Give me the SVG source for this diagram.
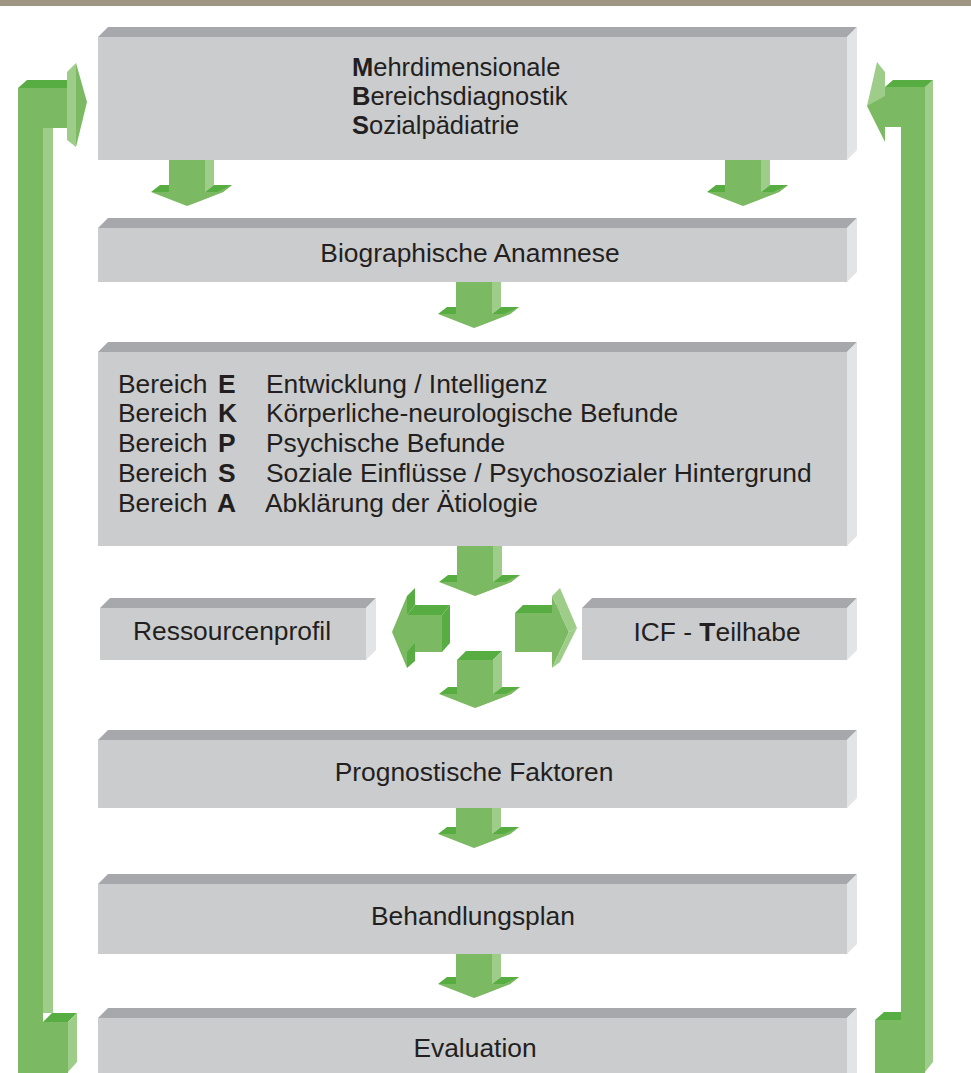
<svg xmlns="http://www.w3.org/2000/svg" width="971" height="1073" viewBox="0 0 971 1073">
<style>
.gt{fill:#a7a8ab}.gs{fill:#e3e4e6}.gf{fill:#cbccce}
.m{fill:#7bb962}.d{fill:#58ad42}.l{fill:#9dcd88}
text{font-family:"Liberation Sans",Arial,sans-serif;font-size:26.4px;fill:#231f20}
.t1{font-size:25.5px}
.c{text-anchor:middle}
.b{font-weight:bold}
</style>
<rect x="0" y="0" width="971" height="6" fill="#9e9682"/>
<g id="box-mbs">
<polygon class="gt" points="98,37 108,27 857,27 847,37"/>
<polygon class="gs" points="847,37 857,27 857,150 847,160"/>
<rect class="gf" x="98" y="37" width="749" height="123"/>
<text class="t1" x="352" y="76"><tspan class="b">M</tspan>ehrdimensionale</text>
<text class="t1" x="352" y="105"><tspan class="b">B</tspan>ereichsdiagnostik</text>
<text class="t1" x="352" y="134"><tspan class="b">S</tspan>ozialpädiatrie</text>
</g>
<g id="box-anamnese">
<polygon class="gt" points="98,228 108,218 857,218 847,228"/>
<polygon class="gs" points="847,228 857,218 857,272 847,282"/>
<rect class="gf" x="98" y="228" width="749" height="54"/>
<text class="c" x="470" y="262">Biographische Anamnese</text>
</g>
<g id="box-bereiche">
<polygon class="gt" points="98,352 108,342 857,342 847,352"/>
<polygon class="gs" points="847,352 857,342 857,536 847,546"/>
<rect class="gf" x="98" y="352" width="749" height="194"/>
<text x="118" y="393">Bereich</text><text class="b" x="218" y="393">E</text><text x="266" y="393">Entwicklung / Intelligenz</text>
<text x="118" y="422">Bereich</text><text class="b" x="218" y="422">K</text><text x="266" y="422">Körperliche-neurologische Befunde</text>
<text x="118" y="452">Bereich</text><text class="b" x="218" y="452">P</text><text x="266" y="452">Psychische Befunde</text>
<text x="118" y="482">Bereich</text><text class="b" x="218" y="482">S</text><text x="266" y="482">Soziale Einflüsse / Psychosozialer Hintergrund</text>
<text x="118" y="512">Bereich</text><text class="b" x="217" y="512">A</text><text x="265" y="512">Abklärung der Ätiologie</text>
</g>
<g id="box-ressourcen">
<polygon class="gt" points="100,608 110,598 376,598 366,608"/>
<polygon class="gs" points="366,608 376,598 376,650 366,660"/>
<rect class="gf" x="100" y="608" width="266" height="52"/>
<text class="c" x="232" y="640">Ressourcenprofil</text>
</g>
<g id="box-icf">
<polygon class="gt" points="582,608 592,598 857,598 847,608"/>
<polygon class="gs" points="847,608 857,598 857,650 847,660"/>
<rect class="gf" x="582" y="608" width="265" height="52"/>
<text class="c" x="717" y="641">ICF - <tspan class="b">T</tspan>eilhabe</text>
</g>
<g id="box-prognose">
<polygon class="gt" points="98,740 108,730 857,730 847,740"/>
<polygon class="gs" points="847,740 857,730 857,798 847,808"/>
<rect class="gf" x="98" y="740" width="749" height="68"/>
<text class="c" x="474" y="781">Prognostische Faktoren</text>
</g>
<g id="box-behandlung">
<polygon class="gt" points="98,884 108,874 857,874 847,884"/>
<polygon class="gs" points="847,884 857,874 857,944 847,954"/>
<rect class="gf" x="98" y="884" width="749" height="70"/>
<text class="c" x="473" y="925">Behandlungsplan</text>
</g>
<g id="box-evaluation">
<polygon class="gt" points="98,1018 108,1008 857,1008 847,1018"/>
<polygon class="gs" points="847,1018 857,1008 857,1073 847,1073"/>
<rect class="gf" x="98" y="1018" width="749" height="60"/>
<text class="c" x="475" y="1057">Evaluation</text>
</g>
<g id="connectors">
<g>
<polygon class="l" points="205,160 214,160 214,185 205,192"/>
<rect class="m" x="169" y="160" width="36" height="32"/>
<polygon class="d" points="151,192 160,185 169,185 169,192"/>
<polygon class="d" points="205,192 214,185 232,185 223,192"/>
<polygon class="m" points="151,192 223,192 187,206"/>
<polygon class="m" points="223,192 232,185 187,206"/>
</g>
<g>
<polygon class="l" points="761,160 770,160 770,185 761,192"/>
<rect class="m" x="725" y="160" width="36" height="32"/>
<polygon class="d" points="707,192 716,185 725,185 725,192"/>
<polygon class="d" points="761,192 770,185 788,185 779,192"/>
<polygon class="m" points="707,192 779,192 743,206"/>
<polygon class="m" points="779,192 788,185 743,206"/>
</g>
<g>
<polygon class="l" points="492,282 501,282 501,307 492,314"/>
<rect class="m" x="456" y="282" width="36" height="32"/>
<polygon class="d" points="438,314 447,307 456,307 456,314"/>
<polygon class="d" points="492,314 501,307 519,307 510,314"/>
<polygon class="m" points="438,314 510,314 474,328"/>
<polygon class="m" points="510,314 519,307 474,328"/>
</g>
<g>
<polygon class="l" points="493,546 502,546 502,575 493,582"/>
<rect class="m" x="457" y="546" width="36" height="36"/>
<polygon class="d" points="439,582 448,575 457,575 457,582"/>
<polygon class="d" points="493,582 502,575 520,575 511,582"/>
<polygon class="m" points="439,582 511,582 475,596"/>
<polygon class="m" points="511,582 520,575 475,596"/>
</g>
<g>
<polygon class="d" points="407,615 415,605 450,605 442,615"/>
<polygon class="d" points="442,615 450,605 450,643 442,652"/>
<rect class="m" x="407" y="615" width="35" height="37"/>
<polygon class="d" points="407,596 415,588 415,605 407,615"/>
<polygon class="d" points="407,652 415,643 415,661 407,668"/>
<polygon class="m" points="407,596 392,632 407,668"/>
</g>
<g>
<polygon class="d" points="515,613 523,605 560,605 552,613"/>
<rect class="m" x="515" y="613" width="37" height="39"/>
<polygon class="l" points="552,613 560,605 560,643 552,652"/>
<polygon class="m" points="552,596 569,632 552,668"/>
<polygon class="l" points="552,596 560,588 577,628 569,632"/>
<polygon class="l" points="569,632 577,628 560,662 552,668"/>
</g>
<g>
<polygon class="d" points="457,660 466,651 502,651 493,660"/>
<polygon class="l" points="493,660 502,651 502,687 493,694"/>
<rect class="m" x="457" y="660" width="36" height="34"/>
<polygon class="d" points="439,694 448,687 457,687 457,694"/>
<polygon class="d" points="493,694 502,687 520,687 511,694"/>
<polygon class="m" points="439,694 511,694 475,708"/>
<polygon class="m" points="511,694 520,687 475,708"/>
</g>
<g>
<polygon class="l" points="492,808 501,808 501,827 492,834"/>
<rect class="m" x="456" y="808" width="36" height="26"/>
<polygon class="d" points="438,834 447,827 456,827 456,834"/>
<polygon class="d" points="492,834 501,827 519,827 510,834"/>
<polygon class="m" points="438,834 510,834 474,848"/>
<polygon class="m" points="510,834 519,827 474,848"/>
</g>
<g>
<polygon class="l" points="492,954 501,954 501,977 492,984"/>
<rect class="m" x="456" y="954" width="36" height="30"/>
<polygon class="d" points="438,984 447,977 456,977 456,984"/>
<polygon class="d" points="492,984 501,977 519,977 510,984"/>
<polygon class="m" points="438,984 510,984 474,998"/>
<polygon class="m" points="510,984 519,977 474,998"/>
</g>
<g>
<rect class="m" x="18" y="88" width="25" height="985"/>
<rect class="l" x="43" y="128" width="10" height="885"/>
<rect class="m" x="18" y="88" width="49" height="40"/>
<polygon class="d" points="18,88 27,80 67,80 67,88"/>
<polygon class="l" points="67,72 76,63 76,147 67,140"/>
<polygon class="m" points="76,63 87,102 76,147"/>
<polygon class="d" points="43,1022 52,1013 77,1013 68,1022"/>
<polygon class="l" points="68,1022 77,1013 77,1062 68,1072"/>
<rect class="m" x="43" y="1022" width="25" height="51"/>
</g>
<g>
<rect class="m" x="901" y="87" width="24" height="986"/>
<polygon class="l" points="925,87 933,80 933,1062 925,1072"/>
<rect class="m" x="885" y="87" width="16" height="40"/>
<polygon class="d" points="885,87 893,80 933,80 925,87"/>
<polygon class="m" points="885,72 867,106 885,142"/>
<polygon class="l" points="877,62 885,72 885,96 867,106"/>
<polygon class="d" points="875,1020 884,1012 901,1012 901,1020"/>
<rect class="m" x="875" y="1020" width="26" height="53"/>
</g>
</g>
</svg>
